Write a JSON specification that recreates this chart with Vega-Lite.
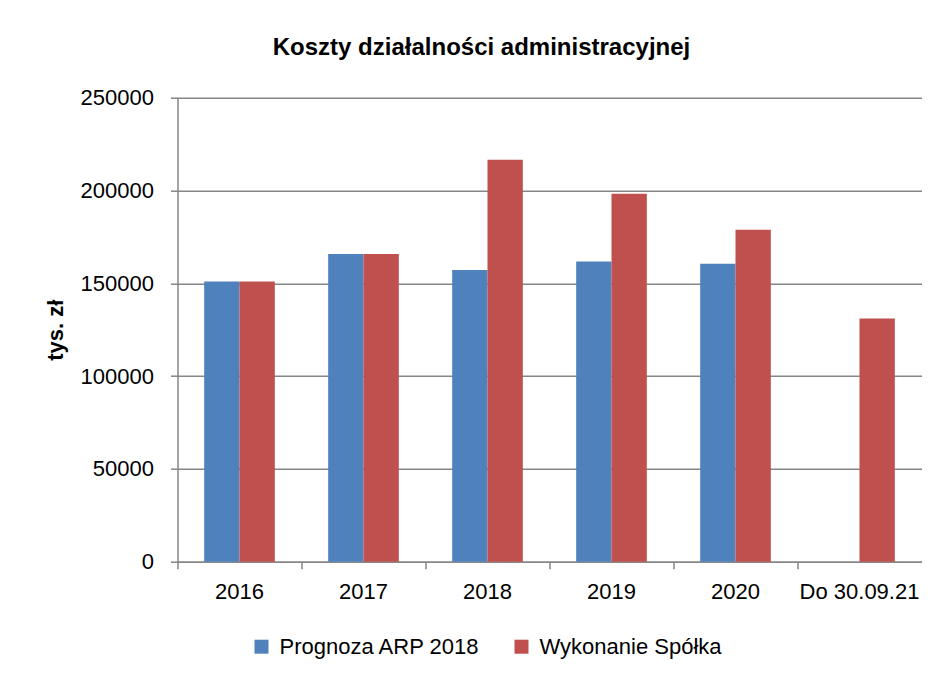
{
  "$schema": "https://vega.github.io/schema/vega-lite/v6.json",
  "autosize": {"type": "none"},
  "width": 744,
  "height": 464,
  "padding": {"left": 177.5, "top": 97.7, "right": 16.5, "bottom": 117.3},
  "background": "white",
  "title": {
    "text": "Koszty działalności administracyjnej",
    "font": "Liberation Sans",
    "fontSize": 24,
    "fontWeight": "bold",
    "color": "#000000",
    "anchor": "middle",
    "frame": "group",
    "baseline": "alphabetic",
    "offset": 8,
    "dx": -68
  },
  "data": {
    "values": [
      {"rok": "2016", "seria": "Prognoza ARP 2018", "wartosc": 151000},
      {"rok": "2016", "seria": "Wykonanie Spółka", "wartosc": 151000},
      {"rok": "2017", "seria": "Prognoza ARP 2018", "wartosc": 165800},
      {"rok": "2017", "seria": "Wykonanie Spółka", "wartosc": 165800},
      {"rok": "2018", "seria": "Prognoza ARP 2018", "wartosc": 157200},
      {"rok": "2018", "seria": "Wykonanie Spółka", "wartosc": 216600},
      {"rok": "2019", "seria": "Prognoza ARP 2018", "wartosc": 161700},
      {"rok": "2019", "seria": "Wykonanie Spółka", "wartosc": 198200},
      {"rok": "2020", "seria": "Prognoza ARP 2018", "wartosc": 160600},
      {"rok": "2020", "seria": "Wykonanie Spółka", "wartosc": 178900},
      {"rok": "Do 30.09.21", "seria": "Wykonanie Spółka", "wartosc": 131100}
    ]
  },
  "mark": {"type": "bar"},
  "encoding": {
    "x": {
      "field": "rok",
      "type": "nominal",
      "sort": ["2016", "2017", "2018", "2019", "2020", "Do 30.09.21"],
      "scale": {"domain": ["2016", "2017", "2018", "2019", "2020", "Do 30.09.21"], "paddingInner": 0, "paddingOuter": 0},
      "axis": {
        "title": null,
        "labelAngle": 0,
        "bandPosition": 0,
        "labelFont": "Liberation Sans",
        "labelFontSize": 22,
        "labelColor": "#000000",
        "labelPadding": 13,
        "labelBaseline": "top",
        "tickSize": 7,
        "tickColor": "#868686",
        "tickWidth": 1.5,
        "domainColor": "#868686",
        "domainWidth": 1.5,
        "grid": false
      }
    },
    "xOffset": {
      "field": "seria",
      "type": "nominal",
      "sort": ["Prognoza ARP 2018", "Wykonanie Spółka"],
      "scale": {"paddingInner": 0, "paddingOuter": 0.755}
    },
    "y": {
      "field": "wartosc",
      "type": "quantitative",
      "scale": {"domain": [0, 250000], "nice": false},
      "axis": {
        "title": "tys. zł",
        "titleFont": "Liberation Sans",
        "titleFontSize": 22,
        "titleFontWeight": "bold",
        "titleColor": "#000000",
        "titlePadding": 13,
        "values": [0, 50000, 100000, 150000, 200000, 250000],
        "format": "d",
        "labelFont": "Liberation Sans",
        "labelFontSize": 22,
        "labelColor": "#000000",
        "labelPadding": 17,
        "tickSize": 7,
        "tickColor": "#868686",
        "tickWidth": 1.5,
        "domainColor": "#868686",
        "domainWidth": 1.5,
        "gridColor": "#868686",
        "gridWidth": 1.5
      }
    },
    "color": {
      "field": "seria",
      "type": "nominal",
      "scale": {"domain": ["Prognoza ARP 2018", "Wykonanie Spółka"], "range": ["#4F81BD", "#C0504D"]},
      "legend": {
        "title": null,
        "orient": "none",
        "direction": "horizontal",
        "legendX": 73,
        "legendY": 538,
        "padding": 0,
        "symbolType": "square",
        "symbolSize": 196,
        "symbolStrokeWidth": 0,
        "symbolOpacity": 1,
        "labelFont": "Liberation Sans",
        "labelFontSize": 22,
        "labelColor": "#000000",
        "labelOffset": 7,
        "labelLimit": 400,
        "columnPadding": 30
      }
    }
  },
  "config": {
    "view": {"stroke": null}
  }
}
